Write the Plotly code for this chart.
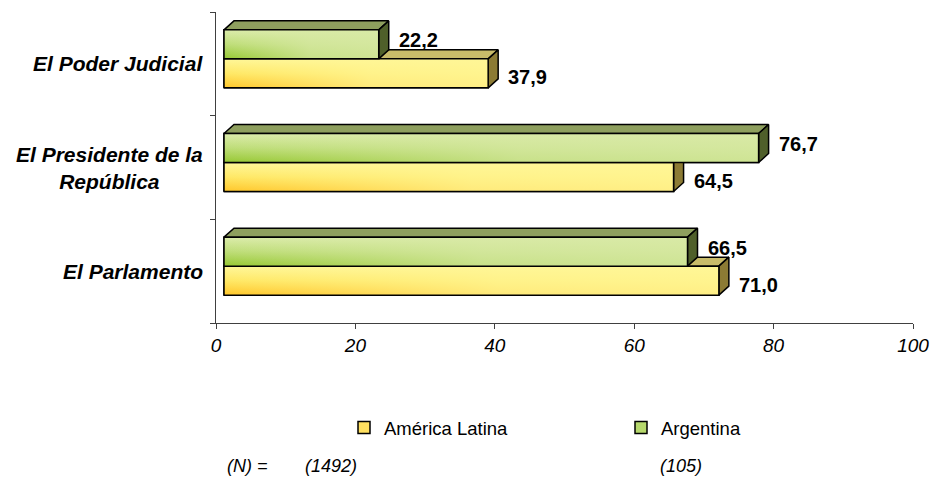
import plotly.graph_objects as go

# ---------------- data ----------------
categories = ["El Parlamento", "El Presidente de la<br>República", "El Poder Judicial"]  # bottom -> top
series_names = ["América Latina", "Argentina"]
america_latina = [71.0, 64.5, 37.9]
argentina = [66.5, 76.7, 22.2]
n_prefix = "(N) ="
n_values = ["(1492)", "(105)"]
x_ticks = [0, 20, 40, 60, 80, 100]

# ---------------- geometry / style ----------------
W, H = 933, 484
ML, MR, MT, MB = 216, 20, 12, 161
PW, PH = W - ML - MR, H - MT - MB
ncat = len(categories)
px_x = PW / 100.0
px_y = PH / ncat

FLOOR_DX = 8 / px_x        # front plane shifted right
SHIFT_UP = 5 / px_y        # front plane shifted up
DX = 10 / px_x             # depth of 3D faces
DY = 9 / px_y
BW = 29 / px_y             # bar thickness

NARROW = "Liberation Sans Narrow, Arial Narrow, Liberation Sans, Arial, sans-serif"
ARIAL = "Liberation Sans, Arial, Helvetica, sans-serif"

styles = {
    "América Latina": dict(front_cs=[[0, "#FFC62A"], [0.5, "#FFE866"], [1, "#FFF79A"]],
                           sheen="255,246,150", top="#C9BC6A", side="#8C7B34", legend="#FFE060"),
    "Argentina": dict(front_cs=[[0, "#96C832"], [0.5, "#BEDD78"], [1, "#DCECAC"]],
                      sheen="216,233,165", top="#8E9F5E", side="#4F5F2A", legend="#B6D86C"),
}

fig = go.Figure()

series = [(series_names[0], america_latina, -BW), (series_names[1], argentina, 0.0)]

# legend / semantic bars (hidden below the 3D faces)
for name, vals, off in series:
    st = styles[name]
    fig.add_trace(go.Bar(
        name=name, y=list(range(ncat)), x=vals, orientation="h",
        width=BW, offset=off, base=0,
        marker=dict(color=st["legend"], line=dict(color="black", width=1.5)),
        xaxis="x2", yaxis="y2", hoverinfo="skip"))

# 3D faces
for name, vals, off in series:
    st = styles[name]
    for i, v in enumerate(vals):
        y0 = i + off
        y1 = y0 + BW
        # top face
        fig.add_trace(go.Scatter(
            x=[0, DX, v + DX, v, 0], y=[y1, y1 + DY, y1 + DY, y1, y1],
            fill="toself", fillcolor=st["top"], mode="lines",
            line=dict(color="black", width=1.5), xaxis="x2", yaxis="y2",
            showlegend=False, hoverinfo="skip"))
        # side face
        fig.add_trace(go.Scatter(
            x=[v, v + DX, v + DX, v, v], y=[y0, y0 + DY, y1 + DY, y1, y0],
            fill="toself", fillcolor=st["side"], mode="lines",
            line=dict(color="black", width=1.5), xaxis="x2", yaxis="y2",
            showlegend=False, hoverinfo="skip"))
        # front face: vertical gradient
        fig.add_trace(go.Scatter(
            x=[0, v, v, 0, 0], y=[y0, y0, y1, y1, y0],
            fill="toself", mode="lines", line=dict(width=0),
            fillgradient=dict(type="vertical", colorscale=st["front_cs"]),
            xaxis="x2", yaxis="y2", showlegend=False, hoverinfo="skip"))
        # front face: horizontal sheen + outline
        fig.add_trace(go.Scatter(
            x=[0, v, v, 0, 0], y=[y0, y0, y1, y1, y0],
            fill="toself", mode="lines", line=dict(color="black", width=1.5),
            fillgradient=dict(type="horizontal", colorscale=[
                [0, f"rgba({st['sheen']},0)"], [0.55, f"rgba({st['sheen']},0.75)"],
                [1, f"rgba({st['sheen']},0.85)"]]),
            xaxis="x2", yaxis="y2", showlegend=False, hoverinfo="skip"))

annotations = []
# value labels
for (name, vals, off), ys in zip(series, (-4, 4)):
    for i, v in enumerate(vals):
        annotations.append(dict(
            x=v, y=i + off + BW / 2, xref="x2", yref="y2", xanchor="left", yanchor="middle",
            xshift=18, yshift=ys, showarrow=False,
            text=f"{v:.1f}".replace(".", ","),
            font=dict(family=ARIAL, size=20, color="black", weight="bold")))

# category labels
for i, c in enumerate(categories):
    annotations.append(dict(
        x=0, y=i, xref="paper", yref="y", xanchor="right", yanchor="middle",
        xshift=-11, showarrow=False, align="center", text=c,
        font=dict(family=ARIAL, size=21, color="black", weight="bold", style="italic")))

# (N) row
nfont = dict(family=NARROW, size=18, color="black", style="italic")
NY = (MT + PH - 466) / PH
annotations.append(dict(x=(225 - ML) / PW, y=NY, xref="paper", yref="paper",
                        xanchor="left", yanchor="middle", showarrow=False, text=n_prefix, font=nfont))
for txt, cx in zip(n_values, (331, 681)):
    annotations.append(dict(x=(cx - ML) / PW, y=NY, xref="paper", yref="paper",
                            xanchor="center", yanchor="middle", showarrow=False, text=txt, font=nfont))

fig.update_layout(
    width=W, height=H,
    margin=dict(l=ML, r=MR, t=MT, b=MB, autoexpand=False),
    paper_bgcolor="white", plot_bgcolor="white",
    barmode="overlay",
    showlegend=True,
    legend=dict(orientation="h", x=(344 - ML) / PW, xanchor="left",
                y=(MT + PH - 428) / PH, yanchor="middle",
                entrywidth=232, entrywidthmode="pixels",
                font=dict(family=NARROW, size=18.5, color="black"),
                bgcolor="rgba(0,0,0,0)", traceorder="normal"),
    xaxis=dict(range=[0, 100], tickvals=x_ticks, ticktext=[str(t) for t in x_ticks],
               automargin=False,
               showgrid=False, zeroline=False, showline=True, linecolor="#404040", linewidth=1,
               ticks="outside", ticklen=5, tickcolor="#404040",
               tickfont=dict(family=NARROW, size=19, color="black", style="italic")),
    yaxis=dict(range=[-0.5, ncat - 0.5], tickvals=[k - 0.5 for k in range(ncat + 1)],
               automargin=False,
               showticklabels=False, showgrid=False, zeroline=False, showline=True,
               linecolor="#404040", linewidth=1, ticks="outside", ticklen=5, tickcolor="#404040"),
    xaxis2=dict(range=[-FLOOR_DX, 100 - FLOOR_DX], overlaying="x", visible=False),
    yaxis2=dict(range=[-0.5 - SHIFT_UP, ncat - 0.5 - SHIFT_UP], overlaying="y", visible=False),
    annotations=annotations,
)

fig.write_html("out.html", config={"displayModeBar": False},
               post_script="document.body.style.margin='0px';")
